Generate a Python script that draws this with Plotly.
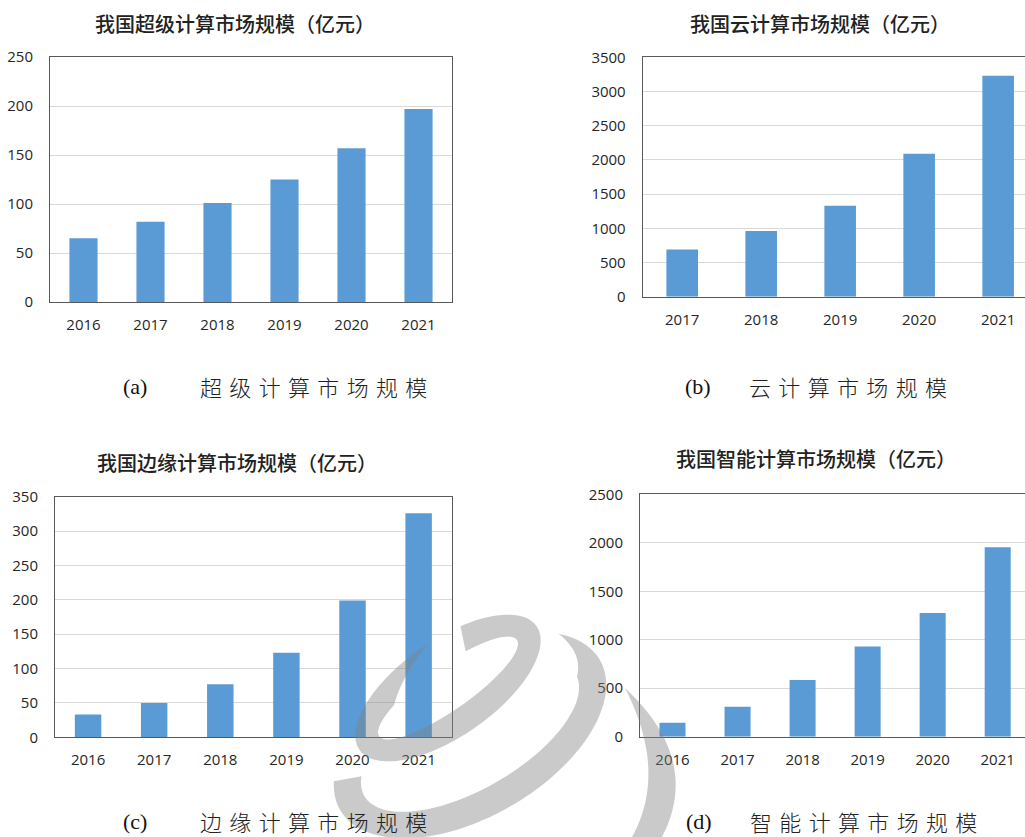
import numpy as np
import plotly.graph_objects as go

W, H = 1025, 837

# ---------------- data ----------------
years_a = ["2016", "2017", "2018", "2019", "2020", "2021"]
super_vals = [65, 82, 101, 125, 157, 197]

years_b = ["2017", "2018", "2019", "2020", "2021"]
cloud_vals = [690, 960, 1330, 2090, 3230]

years_c = ["2016", "2017", "2018", "2019", "2020", "2021"]
edge_vals = [33, 50, 77, 123, 199, 326]

years_d = ["2016", "2017", "2018", "2019", "2020", "2021"]
ai_vals = [145, 310, 585, 930, 1275, 1955]

titles = ["我国超级计算市场规模（亿元）", "我国云计算市场规模（亿元）",
          "我国边缘计算市场规模（亿元）", "我国智能计算市场规模（亿元）"]
caption_tags = ["(a)", "(b)", "(c)", "(d)"]
caption_texts = ["超级计算市场规模", "云计算市场规模", "边缘计算市场规模", "智能计算市场规模"]

BAR = "#5b9bd5"
GRID = "#d9d9d9"
LINE = "#595959"
TICKFONT = dict(family="Open Sans, Noto Sans, sans-serif", size=15, color="#262626")


def px_x(x):
    return x / W


def px_y(y):
    return 1 - y / H


fig = go.Figure()

panels = [
    # cats, vals, xdom(px), ydom(px top,bottom), yrange, dtick, xrange, bar width, mirror_right
    (years_a, super_vals, (50, 452), (57, 302), 250, 50, [-0.5, 5.5], 0.42, True),
    (years_b, cloud_vals, (642.7, 1025), (57.3, 296.7), 3500, 500, [-0.5, 4.34], 0.40, False),
    (years_c, edge_vals, (55, 451.7), (496.7, 737.3), 350, 50, [-0.5, 5.5], 0.40, True),
    (years_d, ai_vals, (640, 1025), (494.3, 736.7), 2500, 500, [-0.5, 5.42], 0.40, False),
]

for i, (cats, vals, xd, yd, ymax, dt, xr, bw, mir) in enumerate(panels):
    n = "" if i == 0 else str(i + 1)
    fig.add_trace(go.Bar(x=cats, y=vals, marker=dict(color=BAR, line=dict(width=0)),
                         width=bw, xaxis="x" + n, yaxis="y" + n, showlegend=False))
    fig.layout["xaxis" + n] = dict(
        domain=[px_x(xd[0]), min(1.0, px_x(xd[1]))], anchor="y" + n, type="category",
        range=xr, showline=True, linecolor=LINE, linewidth=1, mirror=True,
        showgrid=False, ticks="outside", ticklen=9, tickcolor="rgba(0,0,0,0)",
        tickfont=TICKFONT, fixedrange=True, automargin=False)
    fig.layout["yaxis" + n] = dict(
        domain=[px_y(yd[1]), px_y(yd[0])], anchor="x" + n, range=[0, ymax], dtick=dt,
        showline=True, linecolor=LINE, linewidth=1, mirror=mir,
        showgrid=True, gridcolor=GRID, gridwidth=1, zeroline=False,
        ticks="outside", ticklen=13, tickcolor="rgba(0,0,0,0)",
        tickfont=TICKFONT, fixedrange=True, automargin=False)

annotations = []
title_pos = [(235, 23), (820, 23), (237, 462), (816, 459)]
for t, (cx, cy) in zip(titles, title_pos):
    annotations.append(dict(text=t, x=px_x(cx), y=px_y(cy), xref="paper", yref="paper",
                            xanchor="center", yanchor="middle", showarrow=False,
                            font=dict(family="Noto Sans CJK SC", size=20, color="#222222", weight=500)))

cap_pos = [(135, 198, 386), (698, 747, 386), (135, 198, 821), (699, 748, 821)]
SP = "\u2004"
for tag, txt, (tx, cx, cy) in zip(caption_tags, caption_texts, cap_pos):
    annotations.append(dict(text=tag, x=px_x(tx), y=px_y(cy), xref="paper", yref="paper",
                            xanchor="center", yanchor="middle", showarrow=False,
                            font=dict(family="Liberation Serif, serif", size=22, color="#111")))
    annotations.append(dict(text=SP.join(list(txt)), x=px_x(cx), y=px_y(cy), xref="paper", yref="paper",
                            xanchor="left", yanchor="middle", showarrow=False,
                            font=dict(family="Noto Sans CJK SC", size=22, color="#222", weight=300)))


# ---------------- watermark (decorative swirl) ----------------
def to_path(pts):
    return "M " + " L ".join(f"{px_x(x):.5f},{px_y(y):.5f}" for x, y in pts) + " Z"


def band(cx, cy, ao, bo, ai, bi, rot, t0, t1, taper=0.0):
    R = np.radians(rot)
    td = np.linspace(t0, t1, 100)
    t = np.radians(td)
    f = np.clip(np.abs(td - t0) / taper, 0, 1) if taper > 0 else np.ones_like(t)
    pts = []
    u, v = ao * np.cos(t), bo * np.sin(t)
    pts += list(zip(cx + u * np.cos(R) - v * np.sin(R), cy + u * np.sin(R) + v * np.cos(R)))
    a_in = ao - (ao - ai) * f
    b_in = bo - (bo - bi) * f
    u, v = a_in * np.cos(t), b_in * np.sin(t)
    xs = cx + u * np.cos(R) - v * np.sin(R)
    ys = cy + u * np.sin(R) + v * np.cos(R)
    pts += list(zip(xs[::-1], ys[::-1]))
    return to_path(pts)


def crescent(p0, c_out, p2, q2, c_in):
    t = np.linspace(0, 1, 40)
    pts = []
    for a, c, b in [(p0, c_out, p2), (q2, c_in, p0)]:
        xs = (1 - t) ** 2 * a[0] + 2 * (1 - t) * t * c[0] + t ** 2 * b[0]
        ys = (1 - t) ** 2 * a[1] + 2 * (1 - t) * t * c[1] + t ** 2 * b[1]
        pts += list(zip(xs, ys))
    return to_path(pts)


WM = "rgba(128,128,128,0.42)"
paths = [
    band(448, 688, 108, 48, 84, 22, -35, -85, -425, taper=45),
    band(470, 735, 150, 82, 122, 54, -30, -32, 200, taper=35),
    crescent((625, 688), (702, 760), (662, 837), (632, 837), (668, 772)),
]
shapes = [dict(type="path", path=d, xref="paper", yref="paper",
               fillcolor=WM, line=dict(width=0), layer="above") for d in paths]

fig.update_layout(width=W, height=H, margin=dict(l=0, r=0, t=0, b=0, autoexpand=False),
                  paper_bgcolor="white", plot_bgcolor="white",
                  annotations=annotations, shapes=shapes,
                  font=dict(family="Noto Sans CJK SC"))

fig.write_html("out.html")
